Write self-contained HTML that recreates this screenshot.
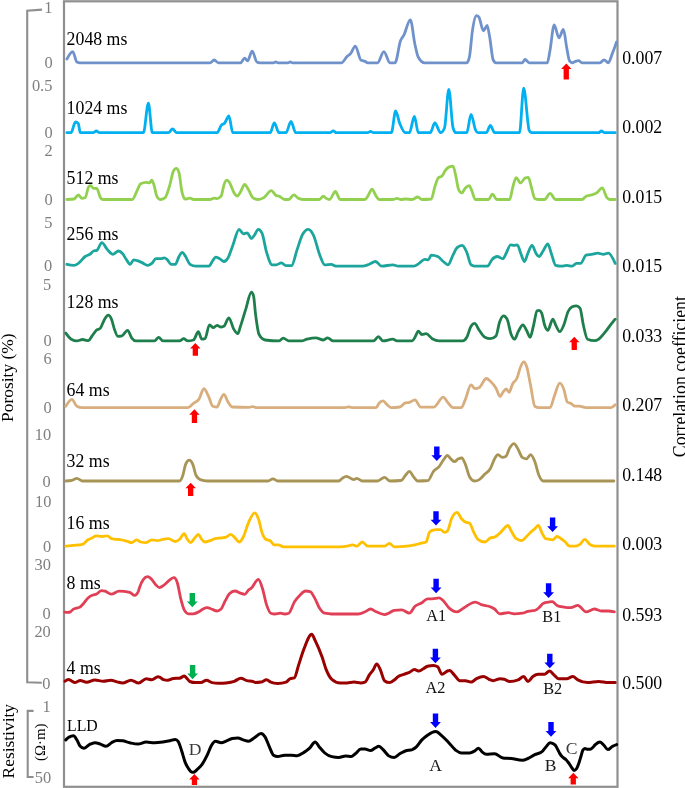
<!DOCTYPE html>
<html><head><meta charset="utf-8"><style>
html,body{margin:0;padding:0;background:#fff;}
svg{display:block;will-change:transform;}
text{font-family:"Liberation Serif",serif;}
.ax{font-size:16.4px;fill:#7f7f7f;}
.lb{font-size:17.8px;fill:#000;}
.sm{font-size:15.6px;fill:#000;}
.lt{font-size:16.3px;fill:#111;}
.lt2{font-size:17.6px;fill:#1a1a1a;}
.lt3{font-size:17.6px;fill:#3a3a3a;}
</style></head><body>
<svg width="685" height="788" viewBox="0 0 685 788">
<rect x="64" y="1.3" width="553.5" height="785.5" fill="none" stroke="#8f8f8f" stroke-width="2.2"/>
<path d="M42,9.6 L27.2,10.8 L27.2,682.2 L41.8,682.8" fill="none" stroke="#8f8f8f" stroke-width="2.1"/>
<path d="M33.6,710.9 L27.7,710.9 L27.7,777 L33.6,777" fill="none" stroke="#8f8f8f" stroke-width="2.1"/>
<text x="52.5" y="13.4" text-anchor="end" class="ax">1</text>
<text x="52.6" y="68.0" text-anchor="end" class="ax">0</text>
<text x="52.4" y="91.0" text-anchor="end" class="ax">0.5</text>
<text x="52.6" y="137.8" text-anchor="end" class="ax">0</text>
<text x="52.6" y="156.0" text-anchor="end" class="ax">2</text>
<text x="52.6" y="204.8" text-anchor="end" class="ax">0</text>
<text x="52.4" y="228.0" text-anchor="end" class="ax">5</text>
<text x="52.2" y="271.0" text-anchor="end" class="ax">0</text>
<text x="51.2" y="290.0" text-anchor="end" class="ax">5</text>
<text x="51.6" y="346.0" text-anchor="end" class="ax">0</text>
<text x="51.6" y="363.6" text-anchor="end" class="ax">6</text>
<text x="51.6" y="413.0" text-anchor="end" class="ax">0</text>
<text x="51.2" y="440.0" text-anchor="end" class="ax">10</text>
<text x="50.8" y="486.6" text-anchor="end" class="ax">0</text>
<text x="51.4" y="506.8" text-anchor="end" class="ax">10</text>
<text x="51.2" y="551.7" text-anchor="end" class="ax">0</text>
<text x="51.0" y="570.0" text-anchor="end" class="ax">30</text>
<text x="50.8" y="619.3" text-anchor="end" class="ax">0</text>
<text x="50.8" y="636.7" text-anchor="end" class="ax">20</text>
<text x="50.4" y="688.6" text-anchor="end" class="ax">0</text>
<text x="50.8" y="711.8" text-anchor="end" class="ax">1</text>
<text x="51.2" y="782.8" text-anchor="end" class="ax">50</text>
<text x="622.2" y="63.5" class="lb">0.007</text>
<text x="622.2" y="133.1" class="lb">0.002</text>
<text x="622.2" y="202.8" class="lb">0.015</text>
<text x="622.2" y="272.4" class="lb">0.015</text>
<text x="622.2" y="341.6" class="lb">0.033</text>
<text x="622.2" y="411.3" class="lb">0.207</text>
<text x="622.2" y="480.5" class="lb">0.148</text>
<text x="622.2" y="550.3" class="lb">0.003</text>
<text x="622.2" y="620.6" class="lb">0.593</text>
<text x="622.2" y="689.2" class="lb">0.500</text>
<text x="66.6" y="44.7" class="lb">2048 ms</text>
<text x="66.6" y="114.4" class="lb">1024 ms</text>
<text x="66.6" y="184.2" class="lb">512 ms</text>
<text x="66.6" y="239.6" class="lb">256 ms</text>
<text x="66.6" y="308.3" class="lb">128 ms</text>
<text x="66.6" y="396.0" class="lb">64 ms</text>
<text x="66.6" y="467.1" class="lb">32 ms</text>
<text x="66.6" y="529.3" class="lb">16 ms</text>
<text x="66.6" y="588.8" class="lb">8 ms</text>
<text x="66.6" y="674.1" class="lb">4 ms</text>
<text x="67.0" y="731.4" class="lb" style="font-size:15.8px">LLD</text>
<text transform="translate(13.4,421.9) rotate(-90)" class="lb" style="font-size:17.4px">Porosity (%)</text>
<text transform="translate(685.7,457.2) rotate(-90)" class="lb">Correlation coefficient</text>
<text transform="translate(14.3,778.4) rotate(-90)" class="lb" style="font-size:17.4px">Resistivity</text>
<text transform="translate(45.2,761.0) rotate(-90)" class="sm" style="font-size:14.9px">(Ω·m)</text>
<path d="M66.9,59.1 C68.8,55.4 70.8,51.6 72.7,51.6 C74.1,51.6 75.5,61.2 76.9,62.0 C77.9,62.5 79.0,62.8 80.0,62.8 C123.3,62.8 166.7,62.8 210.0,62.8 C211.4,62.8 212.8,60.0 214.2,60.0 C215.6,60.0 216.9,62.8 218.3,62.8 C225.7,62.8 233.1,62.8 240.5,62.8 C241.9,62.8 243.3,58.1 244.7,58.1 C245.6,58.1 246.6,60.9 247.5,60.9 C249.1,60.9 250.6,51.1 252.2,51.1 C253.8,51.1 255.3,61.1 256.9,62.0 C257.9,62.5 259.0,62.8 260.0,62.8 C264.5,62.8 269.0,62.8 273.5,62.8 C274.2,62.8 275.0,61.9 275.7,61.9 C276.5,61.9 277.2,62.8 278.0,62.8 C281.3,62.8 284.7,62.8 288.0,62.8 C288.7,62.8 289.5,61.9 290.2,61.9 C291.0,61.9 291.7,62.8 292.5,62.8 C308.8,62.8 325.2,62.8 341.5,62.8 C343.3,62.8 345.2,58.4 347.0,56.6 C348.2,55.5 349.4,55.0 350.6,53.6 C352.2,51.8 353.7,46.1 355.3,46.1 C357.2,46.1 359.0,58.7 360.9,60.0 C362.3,60.9 363.6,60.8 365.0,61.4 C365.9,61.8 366.9,62.8 367.8,62.8 C371.0,62.8 374.3,62.8 377.5,62.8 C379.6,62.8 381.8,51.6 383.9,51.6 C385.9,51.6 388.0,62.8 390.0,62.8 C391.7,62.8 393.3,62.8 395.0,62.8 C396.9,62.8 398.7,45.3 400.6,40.6 C401.7,37.8 402.8,37.2 403.9,35.1 C406.0,31.0 408.2,19.8 410.3,19.8 C411.9,19.8 413.4,37.8 415.0,44.8 C416.1,49.6 417.2,55.4 418.3,57.2 C420.4,60.9 422.6,62.8 424.7,62.8 C438.7,62.8 452.8,62.8 466.8,62.8 C467.7,62.8 468.7,60.5 469.6,55.9 C470.5,51.3 471.5,37.2 472.4,30.9 C473.8,21.5 475.1,15.7 476.5,15.7 C477.3,15.7 478.0,16.1 478.8,17.0 C480.4,18.7 481.9,30.9 483.5,30.9 C484.7,30.9 485.9,25.4 487.1,25.4 C487.9,25.4 488.8,32.0 489.6,36.5 C490.8,42.8 492.0,57.6 493.2,60.0 C494.1,61.8 495.1,62.8 496.0,62.8 C504.8,62.8 513.5,62.8 522.3,62.8 C523.2,62.8 524.2,59.5 525.1,59.5 C526.5,59.5 527.8,62.8 529.2,62.8 C535.2,62.8 541.3,62.8 547.3,62.8 C548.2,62.8 549.1,55.0 550.0,50.4 C551.4,43.1 552.8,24.8 554.2,24.8 C555.8,24.8 557.3,37.8 558.9,37.8 C560.4,37.8 561.9,29.5 563.4,29.5 C564.5,29.5 565.6,42.0 566.7,47.6 C567.6,52.3 568.6,59.5 569.5,60.9 C570.4,62.1 571.3,62.8 572.2,62.8 C573.3,62.8 574.4,61.7 575.5,61.4 C576.5,61.0 577.6,60.6 578.6,60.6 C579.7,60.6 580.9,62.8 582.0,62.8 C588.0,62.8 594.0,62.8 600.0,62.8 C601.4,62.8 602.7,59.8 604.1,59.8 C605.5,59.8 606.9,62.8 608.3,62.8 C609.7,62.8 611.1,56.6 612.5,53.1 C613.9,49.6 615.2,45.8 616.6,42.0" fill="none" stroke="#7092cb" stroke-width="2.80" stroke-linejoin="round" stroke-linecap="round"/>
<path d="M66.9,132.7 C68.3,132.7 69.6,132.7 71.0,132.7 C72.5,132.7 74.0,122.0 75.5,122.0 C76.4,122.0 77.4,122.5 78.3,123.4 C78.9,124.0 79.6,132.7 80.2,132.7 C84.5,132.7 88.7,132.7 93.0,132.7 C94.1,132.7 95.2,131.0 96.3,131.0 C97.4,131.0 98.4,132.7 99.5,132.7 C114.1,132.7 128.8,132.7 143.4,132.7 C145.1,132.7 146.7,103.2 148.4,103.2 C149.7,103.2 151.0,132.7 152.3,132.7 C157.7,132.7 163.0,132.7 168.4,132.7 C169.8,132.7 171.2,129.0 172.6,129.0 C174.0,129.0 175.3,132.7 176.7,132.7 C190.1,132.7 203.6,132.7 217.0,132.7 C218.6,132.7 220.1,126.3 221.7,124.8 C222.6,124.0 223.5,124.2 224.4,123.4 C225.9,122.0 227.4,116.0 228.9,116.0 C230.2,116.0 231.5,132.7 232.8,132.7 C245.3,132.7 257.7,132.7 270.2,132.7 C271.6,132.7 272.9,122.9 274.3,122.9 C275.9,122.9 277.4,132.7 279.0,132.7 C281.3,132.7 283.7,132.7 286.0,132.7 C287.7,132.7 289.3,121.5 291.0,121.5 C292.6,121.5 294.1,132.7 295.7,132.7 C307.1,132.7 318.6,132.7 330.0,132.7 C331.1,132.7 332.1,130.9 333.2,130.9 C334.3,130.9 335.4,132.7 336.5,132.7 C346.8,132.7 357.2,132.7 367.5,132.7 C368.5,132.7 369.6,131.5 370.6,131.5 C371.6,131.5 372.7,132.7 373.7,132.7 C379.6,132.7 385.5,132.7 391.4,132.7 C392.8,132.7 394.2,111.0 395.6,111.0 C397.0,111.0 398.3,120.1 399.7,123.4 C401.6,128.0 403.4,132.7 405.3,132.7 C406.7,132.7 408.0,132.7 409.4,132.7 C411.1,132.7 412.7,116.5 414.4,116.5 C415.7,116.5 417.0,132.7 418.3,132.7 C422.3,132.7 426.2,132.7 430.2,132.7 C431.8,132.7 433.3,122.9 434.9,122.9 C436.8,122.9 438.6,132.7 440.5,132.7 C441.8,132.7 443.2,131.1 444.5,128.0 C445.9,124.6 447.4,89.3 448.8,89.3 C450.2,89.3 451.6,122.3 453.0,127.6 C453.9,131.0 454.8,132.7 455.7,132.7 C459.4,132.7 463.1,132.7 466.8,132.7 C468.2,132.7 469.6,114.3 471.0,114.3 C472.6,114.3 474.1,127.6 475.7,130.4 C476.4,131.7 477.2,132.7 477.9,132.7 C480.7,132.7 483.5,132.7 486.3,132.7 C487.7,132.7 489.0,125.4 490.4,125.4 C491.8,125.4 493.2,132.7 494.6,132.7 C502.9,132.7 511.2,132.7 519.5,132.7 C520.9,132.7 522.3,88.2 523.7,88.2 C525.5,88.2 527.4,126.2 529.2,130.4 C529.9,131.9 530.5,132.7 531.2,132.7 C553.7,132.7 576.1,132.7 598.6,132.7 C599.5,132.7 600.5,131.0 601.4,131.0 C602.4,131.0 603.5,132.7 604.5,132.7 C608.1,132.7 611.6,132.7 615.2,132.7" fill="none" stroke="#00b0f0" stroke-width="2.80" stroke-linejoin="round" stroke-linecap="round"/>
<path d="M66.9,199.5 C69.3,199.4 71.7,199.3 74.1,199.0 C75.5,198.8 76.9,194.8 78.3,194.8 C79.5,194.8 80.7,198.4 81.9,198.4 C83.0,198.4 84.1,198.1 85.2,197.6 C86.4,197.0 87.6,187.6 88.8,186.5 C89.4,185.9 90.1,185.6 90.7,185.6 C91.6,185.6 92.6,188.4 93.5,188.4 C94.6,188.4 95.7,188.4 96.8,188.4 C98.0,188.4 99.2,196.0 100.4,197.6 C101.3,198.9 102.3,199.5 103.2,199.5 C112.9,199.5 122.6,199.5 132.3,199.5 C133.7,199.5 135.1,194.6 136.5,192.0 C137.9,189.4 139.3,184.4 140.7,183.7 C142.5,182.8 144.4,182.3 146.2,182.3 C147.3,182.3 148.4,182.9 149.5,182.9 C150.3,182.9 151.0,180.1 151.8,180.1 C152.5,180.1 153.3,182.9 154.0,185.1 C154.9,187.9 155.9,194.3 156.8,196.2 C157.9,198.4 159.0,199.5 160.1,199.5 C161.8,199.5 163.4,198.9 165.1,197.6 C166.7,196.4 168.2,190.3 169.8,185.1 C171.0,181.1 172.2,173.6 173.4,171.2 C174.3,169.3 175.3,168.4 176.2,168.4 C177.1,168.4 178.1,169.8 179.0,172.6 C179.9,175.3 180.8,186.3 181.7,190.6 C182.8,196.1 184.0,199.0 185.1,199.0 C186.7,199.0 188.4,198.1 190.0,198.1 C191.1,198.1 192.3,199.5 193.4,199.5 C198.9,199.5 204.5,199.5 210.0,199.5 C211.4,199.5 212.8,198.1 214.2,198.1 C215.1,198.1 216.1,198.7 217.0,198.7 C218.4,198.7 219.7,197.9 221.1,196.2 C222.0,195.1 223.0,187.8 223.9,185.1 C224.8,182.4 225.8,180.1 226.7,180.1 C227.6,180.1 228.5,181.0 229.4,182.3 C230.8,184.3 232.2,189.6 233.6,192.0 C234.8,194.0 236.0,196.2 237.2,196.2 C238.3,196.2 239.4,193.6 240.5,192.0 C241.9,189.9 243.3,184.5 244.7,184.5 C246.1,184.5 247.5,188.3 248.9,190.6 C250.2,192.7 251.4,196.7 252.7,197.6 C254.6,198.9 256.4,199.5 258.3,199.5 C260.1,199.5 262.0,198.7 263.8,197.6 C266.3,196.1 268.8,190.6 271.3,190.6 C273.0,190.6 274.6,194.9 276.3,195.6 C277.2,196.0 278.2,195.9 279.1,196.2 C280.9,196.8 282.8,199.5 284.6,199.5 C286.0,199.5 287.4,199.5 288.8,199.5 C290.5,199.5 292.1,194.8 293.8,194.8 C295.4,194.8 296.9,197.8 298.5,198.4 C300.3,199.1 302.2,199.5 304.0,199.5 C309.1,199.5 314.2,199.5 319.3,199.5 C320.7,199.5 322.0,196.2 323.4,196.2 C324.3,196.2 325.3,197.9 326.2,198.4 C327.3,199.0 328.4,199.5 329.5,199.5 C331.5,199.5 333.4,191.5 335.4,191.5 C337.0,191.5 338.5,199.5 340.1,199.5 C348.4,199.5 356.7,199.5 365.0,199.5 C365.9,199.5 366.9,197.5 367.8,196.2 C369.2,194.3 370.6,189.2 372.0,189.2 C373.4,189.2 374.8,194.2 376.2,196.2 C377.1,197.5 378.0,199.5 378.9,199.5 C383.5,199.5 388.2,199.5 392.8,199.5 C394.2,199.5 395.6,198.4 397.0,198.4 C398.4,198.4 399.7,199.5 401.1,199.5 C402.5,199.5 403.9,199.0 405.3,199.0 C407.6,199.0 409.9,199.5 412.2,199.5 C414.1,199.5 415.9,197.0 417.8,197.0 C419.2,197.0 420.5,199.5 421.9,199.5 C425.0,199.5 428.2,199.3 431.3,199.0 C432.5,198.9 433.7,190.1 434.9,186.5 C436.1,182.9 437.3,178.6 438.5,177.6 C439.6,176.7 440.8,177.1 441.9,176.2 C443.0,175.3 444.1,172.2 445.2,170.7 C446.4,169.1 447.6,167.6 448.8,167.1 C450.2,166.5 451.6,166.2 453.0,166.2 C453.9,166.2 454.8,171.7 455.7,175.4 C456.6,179.3 457.6,187.1 458.5,189.2 C459.6,191.7 460.7,192.9 461.8,192.9 C463.0,192.9 464.2,189.1 465.4,187.9 C466.6,186.7 467.9,185.6 469.1,185.6 C470.0,185.6 470.9,188.6 471.8,190.6 C472.9,193.1 474.1,199.5 475.2,199.5 C479.6,199.5 484.1,199.5 488.5,199.5 C489.8,199.5 491.1,194.2 492.4,194.2 C493.9,194.2 495.3,199.5 496.8,199.5 C501.1,199.5 505.5,199.5 509.8,199.5 C510.7,199.5 511.7,191.2 512.6,187.9 C513.8,183.6 515.0,177.6 516.2,177.6 C517.6,177.6 519.0,182.9 520.4,182.9 C522.0,182.9 523.5,178.9 525.1,178.1 C526.2,177.6 527.3,177.3 528.4,177.3 C529.3,177.3 530.3,183.4 531.2,186.5 C532.4,190.5 533.6,197.8 534.8,198.4 C536.2,199.1 537.6,199.5 539.0,199.5 C540.8,199.5 542.7,199.5 544.5,199.5 C546.4,199.5 548.2,193.4 550.1,193.4 C551.9,193.4 553.8,199.5 555.6,199.5 C564.4,199.5 573.2,199.5 582.0,199.5 C583.4,199.5 584.7,196.9 586.1,196.2 C588.0,195.3 589.8,195.4 591.7,194.8 C593.4,194.3 595.0,194.0 596.7,192.9 C598.5,191.7 600.4,187.9 602.2,187.9 C603.8,187.9 605.3,195.7 606.9,197.6 C607.8,198.7 608.8,199.5 609.7,199.5 C611.5,199.5 613.4,199.5 615.2,199.5" fill="none" stroke="#92d050" stroke-width="2.80" stroke-linejoin="round" stroke-linecap="round"/>
<path d="M66.9,264.3 C69.3,264.9 71.7,265.4 74.1,265.4 C75.5,265.4 76.9,264.3 78.3,263.4 C80.6,261.8 82.9,258.2 85.2,256.5 C87.0,255.2 88.9,255.2 90.7,253.7 C91.6,252.9 92.6,251.3 93.5,251.0 C94.6,250.6 95.7,250.8 96.8,250.4 C98.5,249.8 100.1,242.6 101.8,242.6 C103.7,242.6 105.5,247.6 107.4,249.6 C109.2,251.5 111.1,254.3 112.9,254.3 C114.8,254.3 116.6,251.0 118.5,251.0 C119.9,251.0 121.2,252.1 122.6,253.7 C123.8,255.1 125.0,257.6 126.2,259.3 C127.5,261.2 128.8,264.3 130.1,264.3 C131.3,264.3 132.5,259.8 133.7,259.8 C134.9,259.8 136.1,260.3 137.3,260.7 C138.9,261.2 140.5,261.9 142.1,262.6 C143.9,263.4 145.8,265.4 147.6,265.4 C149.0,265.4 150.4,264.5 151.8,263.4 C153.2,262.3 154.5,258.7 155.9,258.7 C157.5,258.7 159.0,258.7 160.6,258.7 C161.8,258.7 163.0,257.9 164.2,257.9 C165.1,257.9 166.1,258.6 167.0,259.3 C168.4,260.4 169.8,264.3 171.2,264.3 C172.6,264.3 173.9,264.3 175.3,264.3 C176.5,264.3 177.8,258.6 179.0,256.5 C180.1,254.7 181.2,252.3 182.3,252.3 C183.4,252.3 184.5,254.9 185.6,256.5 C187.1,258.7 188.5,263.4 190.0,264.3 C192.0,265.6 194.1,266.2 196.1,266.2 C200.3,266.2 204.4,266.2 208.6,266.2 C210.0,266.2 211.4,262.5 212.8,260.7 C213.7,259.5 214.7,257.1 215.6,257.1 C217.0,257.1 218.3,258.0 219.7,258.7 C221.1,259.4 222.5,261.5 223.9,261.5 C225.3,261.5 226.6,260.2 228.0,257.9 C229.6,255.2 231.2,249.5 232.8,245.4 C234.9,240.0 237.0,229.3 239.1,229.3 C240.5,229.3 241.9,233.8 243.3,233.8 C244.6,233.8 245.9,232.9 247.2,232.9 C248.6,232.9 249.9,238.5 251.3,238.5 C252.2,238.5 253.2,236.8 254.1,235.7 C255.5,234.0 256.9,229.3 258.3,229.3 C259.5,229.3 260.7,230.5 261.9,232.9 C263.5,236.0 265.0,247.2 266.6,252.3 C268.4,258.3 270.3,264.8 272.1,264.8 C273.5,264.8 274.9,264.8 276.3,264.8 C278.0,264.8 279.6,262.9 281.3,262.9 C282.9,262.9 284.4,265.7 286.0,265.7 C287.8,265.7 289.7,265.7 291.5,265.7 C293.4,265.7 295.2,254.9 297.1,249.6 C298.9,244.4 300.8,237.6 302.6,234.3 C304.5,231.0 306.3,229.3 308.2,229.3 C310.0,229.3 311.9,231.7 313.7,235.7 C315.6,239.8 317.4,248.8 319.3,253.7 C321.1,258.5 323.0,264.8 324.8,264.8 C326.9,264.8 329.1,264.3 331.2,264.3 C332.8,264.3 334.3,266.2 335.9,266.2 C344.7,266.2 353.5,266.2 362.3,266.2 C364.6,266.2 366.9,265.1 369.2,264.3 C371.3,263.5 373.5,261.5 375.6,261.5 C377.6,261.5 379.7,266.2 381.7,266.2 C385.4,266.2 389.1,264.8 392.8,264.8 C394.6,264.8 396.5,266.2 398.3,266.2 C403.4,266.2 408.5,266.2 413.6,266.2 C415.4,266.2 417.3,264.5 419.1,263.4 C421.0,262.2 422.8,259.3 424.7,259.3 C425.9,259.3 427.1,259.8 428.3,259.8 C429.3,259.8 430.3,255.1 431.3,255.1 C433.4,255.1 435.6,255.6 437.7,256.5 C439.6,257.3 441.4,260.0 443.3,261.5 C444.9,262.7 446.4,264.8 448.0,264.8 C449.7,264.8 451.3,258.2 453.0,255.1 C454.4,252.5 455.7,248.8 457.1,247.6 C458.8,246.1 460.4,245.4 462.1,245.4 C463.7,245.4 465.2,248.8 466.8,252.3 C468.2,255.5 469.6,263.9 471.0,264.8 C472.4,265.7 473.8,266.2 475.2,266.2 C479.3,266.2 483.5,266.2 487.6,266.2 C489.0,266.2 490.4,261.4 491.8,259.8 C493.6,257.7 495.5,256.5 497.3,256.5 C499.2,256.5 501.0,258.7 502.9,258.7 C503.8,258.7 504.8,255.9 505.7,254.3 C507.4,251.5 509.0,244.9 510.7,244.9 C511.8,244.9 512.9,245.4 514.0,245.4 C515.1,245.4 516.2,244.9 517.3,244.9 C518.5,244.9 519.7,250.9 520.9,253.7 C522.1,256.5 523.3,261.5 524.5,261.5 C525.6,261.5 526.8,255.7 527.9,253.2 C529.3,250.2 530.6,245.4 532.0,245.4 C533.4,245.4 534.8,251.8 536.2,253.7 C537.1,255.0 538.1,256.5 539.0,256.5 C540.4,256.5 541.7,252.9 543.1,251.0 C544.7,248.8 546.2,244.0 547.8,244.0 C549.0,244.0 550.2,250.4 551.4,253.7 C552.8,257.5 554.2,265.0 555.6,265.4 C557.4,265.9 559.3,266.2 561.1,266.2 C563.0,266.2 564.8,265.4 566.7,265.4 C568.5,265.4 570.4,266.2 572.2,266.2 C573.6,266.2 575.0,263.4 576.4,263.4 C577.8,263.4 579.2,263.4 580.6,263.4 C582.4,263.4 584.3,255.6 586.1,255.1 C588.0,254.6 589.8,254.6 591.7,254.3 C593.7,254.0 595.8,253.2 597.8,253.2 C599.6,253.2 601.5,254.3 603.3,254.3 C605.0,254.3 606.6,253.2 608.3,253.2 C610.6,253.2 612.9,258.3 615.2,263.4" fill="none" stroke="#1ba59d" stroke-width="2.80" stroke-linejoin="round" stroke-linecap="round"/>
<path d="M65.8,333.1 C67.6,335.6 69.5,338.1 71.3,339.2 C73.2,340.3 75.0,340.9 76.9,340.9 C78.7,340.9 80.6,339.5 82.4,339.5 C84.4,339.5 86.5,340.6 88.5,340.6 C89.7,340.6 90.9,337.5 92.1,335.9 C93.5,334.1 94.9,331.6 96.3,330.3 C97.7,329.0 99.0,329.6 100.4,328.1 C101.8,326.6 103.2,321.4 104.6,319.2 C105.8,317.3 107.0,315.1 108.2,315.1 C109.3,315.1 110.4,316.5 111.5,319.2 C112.4,321.5 113.4,326.2 114.3,328.9 C115.5,332.3 116.7,336.4 117.9,336.4 C119.2,336.4 120.5,336.2 121.8,335.9 C123.7,335.4 125.7,330.3 127.6,330.3 C129.0,330.3 130.4,336.3 131.8,338.1 C133.1,339.7 134.4,340.9 135.7,340.9 C142.0,340.9 148.2,340.9 154.5,340.9 C155.9,340.9 157.3,337.3 158.7,337.3 C160.1,337.3 161.5,340.9 162.9,340.9 C168.4,340.9 174.0,340.9 179.5,340.9 C180.9,340.9 182.3,338.7 183.7,338.7 C185.1,338.7 186.4,340.9 187.8,340.9 C189.7,340.9 191.5,340.6 193.4,340.0 C195.1,339.5 196.7,331.7 198.4,331.7 C199.5,331.7 200.6,339.2 201.7,339.2 C202.8,339.2 203.9,339.0 205.0,338.7 C206.5,338.2 208.0,324.8 209.5,324.8 C210.8,324.8 212.0,327.6 213.3,327.6 C214.5,327.6 215.8,325.3 217.0,325.3 C218.2,325.3 219.4,327.0 220.6,327.0 C221.7,327.0 222.8,326.7 223.9,326.2 C225.6,325.4 227.2,317.8 228.9,317.8 C230.5,317.8 232.0,326.2 233.6,328.9 C235.0,331.3 236.4,333.7 237.8,333.7 C238.7,333.7 239.6,328.8 240.5,326.2 C242.4,320.7 244.2,314.0 246.1,308.1 C247.8,302.6 249.6,292.1 251.3,292.1 C252.0,292.1 252.8,293.3 253.5,295.7 C254.2,297.9 254.8,308.5 255.5,313.7 C256.7,323.1 257.9,332.3 259.1,334.5 C261.1,338.2 263.2,339.7 265.2,340.0 C269.8,340.6 274.5,340.9 279.1,340.9 C280.5,340.9 281.8,338.1 283.2,338.1 C285.1,338.1 286.9,340.9 288.8,340.9 C293.0,340.9 297.1,340.9 301.3,340.9 C303.1,340.9 305.0,339.7 306.8,339.2 C309.8,338.5 312.7,337.8 315.7,337.8 C318.3,337.8 320.8,340.0 323.4,340.0 C324.8,340.0 326.2,337.8 327.6,337.8 C329.5,337.8 331.3,340.9 333.2,340.9 C346.6,340.9 360.0,340.9 373.4,340.9 C375.1,340.9 376.7,336.7 378.4,336.7 C380.0,336.7 381.5,340.9 383.1,340.9 C386.3,340.9 389.6,339.2 392.8,339.2 C394.2,339.2 395.6,340.9 397.0,340.9 C402.1,340.9 407.1,340.9 412.2,340.9 C413.1,340.9 414.1,338.7 415.0,337.3 C416.1,335.6 417.2,331.2 418.3,331.2 C419.5,331.2 420.7,334.5 421.9,334.5 C423.3,334.5 424.7,333.7 426.1,333.7 C428.1,333.7 430.2,337.5 432.2,338.7 C434.5,340.0 436.8,340.9 439.1,340.9 C447.0,340.9 454.8,340.9 462.7,340.9 C464.1,340.9 465.4,339.7 466.8,337.3 C468.2,334.9 469.6,328.4 471.0,326.2 C472.2,324.3 473.4,323.4 474.6,323.4 C476.2,323.4 477.7,328.2 479.3,330.3 C481.2,332.9 483.0,336.3 484.9,337.3 C486.7,338.2 488.6,338.7 490.4,338.7 C492.3,338.7 494.1,337.8 496.0,335.9 C497.2,334.7 498.4,325.3 499.6,322.0 C500.9,318.4 502.2,315.9 503.5,315.9 C504.7,315.9 505.9,317.0 507.1,319.2 C508.5,321.7 509.8,331.1 511.2,334.5 C512.3,337.2 513.4,339.2 514.5,339.2 C515.7,339.2 517.0,333.9 518.2,331.7 C519.8,328.9 521.3,324.8 522.9,324.8 C524.1,324.8 525.3,328.2 526.5,330.3 C527.7,332.4 528.9,337.3 530.1,337.3 C531.2,337.3 532.3,330.4 533.4,326.2 C534.6,321.7 535.8,311.5 537.0,310.9 C537.7,310.6 538.3,310.4 539.0,310.4 C539.9,310.4 540.8,311.3 541.7,313.1 C542.6,315.0 543.6,322.0 544.5,324.8 C545.6,328.1 546.7,330.3 547.8,330.3 C549.5,330.3 551.1,319.2 552.8,319.2 C553.9,319.2 555.1,324.2 556.2,326.2 C557.4,328.4 558.6,331.7 559.8,331.7 C561.2,331.7 562.5,328.1 563.9,324.8 C565.3,321.4 566.7,314.5 568.1,311.5 C569.5,308.6 570.8,307.4 572.2,306.8 C573.6,306.2 575.0,305.9 576.4,305.9 C577.6,305.9 578.8,306.6 580.0,308.1 C581.1,309.4 582.2,320.0 583.3,324.8 C584.7,330.9 586.1,338.6 587.5,339.2 C589.8,340.1 592.1,340.6 594.4,340.6 C595.8,340.6 597.2,340.1 598.6,339.2 C600.9,337.8 603.2,334.5 605.5,331.7 C607.4,329.4 609.2,326.6 611.1,324.2 C612.5,322.5 613.8,320.8 615.2,319.2" fill="none" stroke="#1f7f4c" stroke-width="2.80" stroke-linejoin="round" stroke-linecap="round"/>
<path d="M65.8,406.2 C67.8,402.8 69.9,399.3 71.9,399.3 C73.6,399.3 75.2,405.4 76.9,406.2 C78.7,407.1 80.6,407.6 82.4,407.6 C117.5,407.6 152.7,407.6 187.8,407.6 C189.7,407.6 191.5,404.8 193.4,403.4 C195.2,402.0 197.1,402.0 198.9,399.3 C200.6,396.9 202.2,388.7 203.9,388.7 C205.5,388.7 207.0,393.4 208.6,396.5 C210.0,399.3 211.4,405.7 212.8,406.2 C214.2,406.7 215.6,407.0 217.0,407.0 C218.2,407.0 219.4,401.5 220.6,399.3 C221.7,397.3 222.8,394.3 223.9,394.3 C225.3,394.3 226.6,399.9 228.0,402.0 C229.4,404.2 230.8,406.9 232.2,407.0 C237.8,407.3 243.4,407.4 249.0,407.4 C250.2,407.4 251.5,406.6 252.7,406.6 C253.8,406.6 254.9,407.6 256.0,407.6 C285.7,407.6 315.3,407.6 345.0,407.6 C346.1,407.6 347.3,406.8 348.4,406.8 C349.6,406.8 350.8,407.6 352.0,407.6 C360.1,407.6 368.1,407.6 376.2,407.6 C377.1,407.6 378.0,404.5 378.9,403.4 C380.3,401.7 381.7,400.9 383.1,400.9 C384.5,400.9 385.8,403.7 387.2,404.8 C388.6,405.9 390.0,407.6 391.4,407.6 C394.2,407.6 396.9,407.4 399.7,407.0 C401.6,406.7 403.4,403.4 405.3,402.9 C406.7,402.5 408.0,402.7 409.4,402.3 C411.3,401.8 413.1,399.8 415.0,399.8 C416.8,399.8 418.7,406.9 420.5,407.0 C424.8,407.1 429.2,407.2 433.5,407.2 C436.8,407.2 440.0,397.1 443.3,397.1 C444.7,397.1 446.0,400.5 447.4,402.0 C449.3,404.1 451.1,407.6 453.0,407.6 C455.8,407.6 458.5,407.6 461.3,407.6 C462.7,407.6 464.0,402.4 465.4,399.3 C467.3,395.1 469.1,384.9 471.0,384.9 C472.4,384.9 473.8,388.7 475.2,388.7 C476.6,388.7 477.9,388.3 479.3,387.6 C481.6,386.3 484.0,378.5 486.3,378.5 C487.7,378.5 489.0,380.0 490.4,381.2 C492.3,382.9 494.1,385.0 496.0,388.2 C497.4,390.5 498.7,396.5 500.1,396.5 C501.0,396.5 502.0,393.5 502.9,392.3 C504.0,390.9 505.1,389.0 506.2,389.0 C507.1,389.0 508.1,392.3 509.0,392.3 C510.2,392.3 511.4,386.2 512.6,384.0 C514.0,381.4 515.4,381.6 516.8,378.5 C518.2,375.5 519.5,368.9 520.9,366.0 C521.8,364.0 522.8,361.8 523.7,361.8 C524.6,361.8 525.6,363.4 526.5,366.0 C527.9,369.8 529.2,378.8 530.6,385.4 C532.0,392.2 533.4,405.3 534.8,406.2 C536.2,407.1 537.6,407.6 539.0,407.6 C542.7,407.6 546.4,407.6 550.1,407.6 C551.5,407.6 552.8,400.0 554.2,396.5 C556.1,391.7 557.9,383.2 559.8,383.2 C561.2,383.2 562.5,385.9 563.9,389.6 C565.0,392.7 566.2,401.1 567.3,402.0 C568.5,402.9 569.7,402.8 570.9,403.4 C572.3,404.1 573.6,406.2 575.0,406.2 C576.4,406.2 577.8,406.2 579.2,406.2 C581.5,406.2 583.8,407.6 586.1,407.6 C594.4,407.6 602.8,407.6 611.1,407.6 C612.5,407.6 613.8,406.2 615.2,404.8" fill="none" stroke="#d9ae7e" stroke-width="2.80" stroke-linejoin="round" stroke-linecap="round"/>
<path d="M65.8,481.0 C67.6,480.9 69.5,480.8 71.3,480.5 C73.2,480.2 75.0,478.3 76.9,478.3 C78.7,478.3 80.6,481.0 82.4,481.0 C114.8,481.0 147.1,481.0 179.5,481.0 C180.6,481.0 181.7,478.7 182.8,475.5 C183.7,472.8 184.7,466.6 185.6,464.4 C186.8,461.6 188.0,460.2 189.2,460.2 C190.4,460.2 191.6,461.6 192.8,464.4 C193.9,466.9 195.0,473.4 196.1,475.5 C197.5,478.2 198.9,479.0 200.3,479.6 C202.6,480.5 204.9,481.0 207.2,481.0 C227.5,481.0 247.7,481.0 268.0,481.0 C269.7,481.0 271.3,478.8 273.0,478.8 C274.6,478.8 276.1,481.0 277.7,481.0 C298.0,481.0 318.4,481.0 338.7,481.0 C339.9,481.0 341.1,479.1 342.3,478.3 C343.6,477.5 344.9,476.3 346.2,476.3 C347.7,476.3 349.1,477.7 350.6,478.3 C351.7,478.8 352.9,479.6 354.0,479.6 C354.9,479.6 355.8,478.3 356.7,478.3 C358.6,478.3 360.4,481.0 362.3,481.0 C367.4,481.0 372.4,481.0 377.5,481.0 C379.8,481.0 382.2,477.4 384.5,477.4 C386.3,477.4 388.2,481.0 390.0,481.0 C393.7,481.0 397.4,480.8 401.1,480.5 C402.5,480.4 403.9,477.0 405.3,475.5 C406.7,474.0 408.0,471.3 409.4,471.3 C410.8,471.3 412.2,475.3 413.6,476.9 C415.0,478.5 416.4,481.0 417.8,481.0 C421.2,481.0 424.6,480.8 428.0,480.5 C429.8,480.3 431.7,473.6 433.5,471.3 C435.4,468.9 437.2,468.9 439.1,466.6 C440.5,464.9 441.9,462.1 443.3,460.2 C444.7,458.4 446.0,455.5 447.4,455.5 C448.8,455.5 450.2,458.6 451.6,459.7 C452.5,460.5 453.5,461.6 454.4,461.6 C455.8,461.6 457.1,459.4 458.5,458.8 C459.6,458.3 460.7,458.0 461.8,458.0 C463.0,458.0 464.2,461.6 465.4,464.4 C466.8,467.7 468.2,474.6 469.6,476.9 C471.3,479.6 472.9,481.0 474.6,481.0 C476.2,481.0 477.7,480.5 479.3,479.6 C481.2,478.5 483.0,476.0 484.9,474.1 C486.7,472.3 488.6,471.7 490.4,468.5 C491.8,466.0 493.2,461.2 494.6,458.8 C495.7,456.9 496.8,454.7 497.9,454.7 C499.4,454.7 500.8,457.4 502.3,457.4 C503.4,457.4 504.6,457.1 505.7,456.6 C507.1,456.0 508.4,449.9 509.8,447.7 C511.2,445.5 512.6,443.6 514.0,443.6 C515.1,443.6 516.2,446.0 517.3,447.7 C519.0,450.2 520.6,456.3 522.3,457.4 C523.7,458.3 525.1,458.8 526.5,458.8 C527.9,458.8 529.2,454.7 530.6,454.7 C532.0,454.7 533.4,458.1 534.8,461.6 C536.2,465.1 537.6,472.3 539.0,475.5 C540.4,478.7 541.7,481.0 543.1,481.0 C566.7,481.0 590.3,481.0 613.9,481.0" fill="none" stroke="#a89556" stroke-width="2.80" stroke-linejoin="round" stroke-linecap="round"/>
<path d="M65.8,546.2 C68.6,546.0 71.3,545.7 74.1,545.4 C76.9,545.1 79.6,545.0 82.4,544.3 C84.3,543.8 86.1,540.9 88.0,539.8 C89.4,539.0 90.7,538.5 92.1,537.9 C93.5,537.2 94.9,535.9 96.3,535.9 C98.1,535.9 100.0,536.5 101.8,536.5 C103.7,536.5 105.5,535.9 107.4,535.9 C108.8,535.9 110.1,538.3 111.5,538.7 C112.9,539.1 114.3,539.1 115.7,539.3 C117.6,539.5 119.4,539.5 121.3,539.8 C123.1,540.1 125.0,540.7 126.8,541.2 C128.5,541.6 130.1,542.6 131.8,542.6 C133.4,542.6 134.9,539.8 136.5,539.8 C137.9,539.8 139.3,541.7 140.7,542.0 C142.5,542.4 144.4,542.6 146.2,542.6 C148.1,542.6 149.9,539.8 151.8,539.8 C153.6,539.8 155.5,540.7 157.3,540.7 C159.2,540.7 161.0,539.6 162.9,539.3 C164.7,539.0 166.6,538.7 168.4,538.7 C170.7,538.7 173.0,541.5 175.3,541.5 C176.7,541.5 178.1,540.5 179.5,539.3 C181.1,538.0 182.6,533.7 184.2,533.7 C185.2,533.7 186.3,537.8 187.3,539.3 C188.4,540.9 189.5,542.6 190.6,542.6 C192.0,542.6 193.4,539.4 194.8,537.9 C196.0,536.6 197.2,534.3 198.4,534.3 C199.5,534.3 200.6,538.0 201.7,539.3 C202.8,540.6 203.9,542.0 205.0,542.0 C206.7,542.0 208.3,541.2 210.0,540.7 C211.7,540.2 213.3,539.1 215.0,538.7 C217.0,538.2 219.1,538.2 221.1,537.9 C222.8,537.7 224.4,537.6 226.1,537.1 C227.7,536.6 229.2,534.3 230.8,534.3 C232.2,534.3 233.6,536.6 235.0,537.9 C236.4,539.2 237.7,542.0 239.1,542.0 C240.5,542.0 241.9,539.7 243.3,537.0 C245.0,533.7 246.8,526.4 248.5,522.6 C250.6,518.0 252.6,512.9 254.7,512.9 C255.9,512.9 257.1,515.4 258.3,518.5 C259.7,522.0 261.0,530.2 262.4,533.7 C263.8,537.3 265.2,539.1 266.6,539.8 C267.8,540.4 269.0,540.1 270.2,540.7 C271.5,541.4 272.8,544.8 274.1,544.8 C275.6,544.8 277.0,544.8 278.5,544.8 C280.1,544.8 281.6,546.8 283.2,546.8 C302.2,546.8 321.1,546.8 340.1,546.8 C342.4,546.8 344.7,546.6 347.0,546.2 C348.9,545.9 350.7,544.8 352.6,544.8 C354.0,544.8 355.3,546.2 356.7,546.2 C358.6,546.2 360.4,542.0 362.3,542.0 C364.1,542.0 366.0,546.2 367.8,546.2 C373.4,546.2 378.9,546.2 384.5,546.2 C386.2,546.2 387.8,543.4 389.5,543.4 C391.1,543.4 392.6,546.8 394.2,546.8 C398.4,546.8 402.5,546.6 406.7,546.2 C408.5,546.0 410.4,545.7 412.2,545.4 C415.0,544.9 417.7,544.1 420.5,543.4 C422.4,542.9 424.2,542.9 426.1,542.0 C427.2,541.5 428.3,533.8 429.4,532.3 C430.3,531.0 431.3,530.8 432.2,530.4 C433.6,529.9 434.9,529.6 436.3,529.6 C437.7,529.6 439.1,529.6 440.5,529.6 C441.9,529.6 443.2,532.3 444.6,532.3 C445.5,532.3 446.5,531.9 447.4,531.0 C448.8,529.7 450.2,521.5 451.6,518.5 C453.4,514.5 455.3,512.4 457.1,512.4 C458.5,512.4 459.9,516.9 461.3,518.5 C462.7,520.1 464.0,521.4 465.4,522.1 C466.8,522.8 468.2,522.5 469.6,523.2 C471.0,523.9 472.4,529.6 473.8,532.3 C475.2,534.9 476.5,538.2 477.9,539.3 C480.2,541.1 482.6,542.0 484.9,542.0 C486.7,542.0 488.6,538.6 490.4,537.9 C491.8,537.4 493.2,537.6 494.6,537.1 C496.6,536.3 498.7,534.4 500.7,532.3 C501.9,531.1 503.1,529.4 504.3,528.2 C505.5,527.1 506.7,525.4 507.9,525.4 C509.0,525.4 510.1,529.2 511.2,531.0 C512.9,533.7 514.5,537.5 516.2,538.7 C518.1,540.0 519.9,540.7 521.8,540.7 C523.4,540.7 524.9,538.0 526.5,536.5 C527.9,535.2 529.2,533.6 530.6,532.3 C532.0,531.0 533.4,529.9 534.8,528.7 C536.0,527.6 537.2,525.4 538.4,525.4 C539.5,525.4 540.6,530.3 541.7,532.3 C543.1,534.9 544.5,538.3 545.9,538.7 C548.2,539.4 550.5,539.8 552.8,539.8 C554.2,539.8 555.6,536.5 557.0,536.5 C558.4,536.5 559.7,537.8 561.1,538.7 C562.5,539.6 563.9,540.8 565.3,542.0 C566.7,543.2 568.1,546.2 569.5,546.2 C571.3,546.2 573.2,546.2 575.0,546.2 C576.7,546.2 578.3,545.5 580.0,544.3 C581.6,543.2 583.1,539.3 584.7,539.3 C586.6,539.3 588.4,543.8 590.3,544.8 C592.1,545.7 594.0,546.2 595.8,546.2 C602.0,546.2 608.2,546.2 614.4,546.2" fill="none" stroke="#ffc000" stroke-width="2.80" stroke-linejoin="round" stroke-linecap="round"/>
<path d="M64.8,612.2 C65.9,612.3 66.9,612.4 68.0,612.4 C68.8,612.4 69.7,612.2 70.5,611.7 C71.5,611.2 72.5,609.7 73.5,609.1 C74.5,608.5 75.5,608.4 76.5,608.1 C77.5,607.8 78.6,607.8 79.6,607.3 C80.9,606.6 82.2,604.9 83.5,603.5 C84.8,602.0 86.2,599.8 87.5,598.5 C89.3,596.7 91.0,595.7 92.8,595.0 C94.0,594.5 95.1,594.6 96.3,594.1 C98.0,593.4 99.8,590.7 101.5,590.7 C102.7,590.7 103.8,590.9 105.0,591.2 C107.1,591.7 109.1,594.2 111.2,594.2 C113.8,594.2 116.4,591.2 119.0,591.2 C122.5,591.2 126.1,591.6 129.6,592.4 C131.3,592.8 133.1,595.4 134.8,595.4 C136.0,595.4 137.1,594.1 138.3,591.5 C138.6,590.8 139.0,589.2 139.3,588.2 C140.7,584.0 142.0,581.2 143.4,579.4 C144.8,577.5 146.2,576.6 147.6,576.6 C149.0,576.6 150.4,578.0 151.8,579.4 C153.2,580.8 154.5,583.5 155.9,584.9 C157.1,586.1 158.3,587.7 159.5,587.7 C161.1,587.7 162.6,586.0 164.2,584.9 C166.1,583.5 167.9,581.2 169.8,579.9 C171.2,578.9 172.6,577.7 174.0,577.7 C175.1,577.7 176.2,579.4 177.3,582.7 C178.5,586.3 179.7,594.7 180.9,599.3 C182.1,603.9 183.3,608.3 184.5,610.4 C185.8,612.7 187.1,613.8 188.4,613.8 C190.1,613.8 191.7,613.8 193.4,613.8 C195.2,613.8 197.1,612.8 198.9,611.8 C200.3,611.1 201.7,609.7 203.1,609.0 C204.5,608.3 205.8,607.7 207.2,607.7 C208.6,607.7 210.0,608.5 211.4,609.0 C213.3,609.6 215.1,611.0 217.0,611.0 C218.4,611.0 219.7,610.3 221.1,609.0 C222.5,607.6 223.9,603.3 225.3,600.7 C226.7,598.2 228.0,595.2 229.4,593.8 C231.3,591.9 233.1,591.0 235.0,591.0 C236.8,591.0 238.7,592.6 240.5,593.2 C241.9,593.7 243.3,594.3 244.7,594.3 C246.1,594.3 247.5,590.7 248.9,589.6 C249.7,589.0 250.5,588.8 251.3,588.2 C253.6,586.4 256.0,579.4 258.3,579.4 C259.7,579.4 261.0,584.0 262.4,588.2 C263.8,592.5 265.2,600.7 266.6,604.9 C268.0,609.0 269.3,612.7 270.7,613.2 C272.1,613.7 273.5,614.0 274.9,614.0 C276.7,614.0 278.6,613.2 280.4,613.2 C281.8,613.2 283.2,614.0 284.6,614.0 C286.0,614.0 287.4,613.7 288.8,613.2 C290.6,612.5 292.5,605.1 294.3,602.1 C296.2,599.1 298.0,597.1 299.9,595.2 C301.7,593.4 303.6,591.0 305.4,591.0 C307.0,591.0 308.5,591.2 310.1,591.6 C311.6,592.0 313.1,595.3 314.6,597.9 C316.2,600.6 317.7,605.2 319.3,607.7 C321.1,610.6 323.0,612.8 324.8,613.2 C327.1,613.7 329.5,614.0 331.8,614.0 C340.6,614.0 349.3,614.0 358.1,614.0 C360.4,614.0 362.7,612.8 365.0,611.8 C366.9,611.0 368.7,609.0 370.6,609.0 C372.5,609.0 374.3,611.0 376.2,611.8 C379.0,613.0 381.7,614.6 384.5,614.6 C385.9,614.6 387.2,613.8 388.6,613.2 C390.5,612.4 392.3,610.6 394.2,610.4 C396.7,610.1 399.2,609.9 401.7,609.9 C404.3,609.9 406.8,613.2 409.4,613.2 C411.3,613.2 413.1,608.0 415.0,606.3 C417.3,604.2 419.6,604.1 421.9,602.7 C423.8,601.5 425.6,598.8 427.5,598.8 C429.1,598.8 430.6,598.8 432.2,598.8 C434.5,598.8 436.8,597.9 439.1,597.9 C440.5,597.9 441.9,599.4 443.3,600.7 C445.1,602.4 447.0,605.9 448.8,607.7 C451.6,610.4 454.3,611.8 457.1,611.8 C459.4,611.8 461.8,609.0 464.1,607.7 C467.8,605.6 471.5,602.1 475.2,602.1 C477.5,602.1 479.8,604.2 482.1,604.9 C484.4,605.6 486.7,605.5 489.0,606.3 C490.9,607.0 492.7,607.6 494.6,609.0 C496.3,610.2 497.9,613.8 499.6,613.8 C502.5,613.8 505.5,612.7 508.4,612.7 C510.3,612.7 512.1,613.8 514.0,613.8 C516.8,613.8 519.5,613.6 522.3,613.2 C524.2,612.9 526.0,611.8 527.9,611.3 C530.2,610.7 532.5,611.0 534.8,610.4 C536.2,610.0 537.6,608.9 539.0,607.7 C540.4,606.6 541.7,604.2 543.1,603.5 C545.0,602.6 546.8,602.4 548.7,602.1 C549.9,601.9 551.1,601.6 552.3,601.6 C553.9,601.6 555.4,604.6 557.0,605.4 C559.3,606.5 561.6,606.7 563.9,607.1 C566.2,607.5 568.6,607.7 570.9,607.7 C573.2,607.7 575.5,605.4 577.8,605.4 C580.6,605.4 583.3,611.8 586.1,611.8 C588.9,611.8 591.6,609.0 594.4,609.0 C596.7,609.0 599.1,611.0 601.4,611.0 C603.7,611.0 606.0,611.0 608.3,611.0 C610.3,611.0 612.4,611.4 614.4,611.8" fill="none" stroke="#e13f55" stroke-width="2.80" stroke-linejoin="round" stroke-linecap="round"/>
<path d="M65.1,681.2 C66.2,680.3 67.4,679.4 68.5,679.4 C69.4,679.4 70.4,680.3 71.3,680.8 C72.5,681.4 73.6,682.6 74.8,682.6 C76.6,682.6 78.5,680.5 80.3,680.5 C82.4,680.5 84.5,682.3 86.6,682.3 C89.4,682.3 92.1,680.1 94.9,680.1 C97.7,680.1 100.4,681.2 103.2,681.2 C105.7,681.2 108.3,680.2 110.8,680.2 C112.9,680.2 115.0,681.4 117.1,681.9 C118.9,682.3 120.8,683.0 122.6,683.0 C125.4,683.0 128.2,680.2 131.0,680.2 C133.5,680.2 136.1,683.0 138.6,683.0 C141.1,683.0 143.7,678.7 146.2,678.7 C148.1,678.7 149.9,679.8 151.8,679.8 C153.9,679.8 155.9,676.8 158.0,676.8 C158.7,676.8 159.4,677.1 160.1,677.4 C161.2,677.9 162.4,679.2 163.5,679.6 C164.9,680.1 166.3,680.3 167.7,680.3 C169.6,680.3 171.4,678.7 173.3,678.5 C175.4,678.3 177.4,678.4 179.5,678.2 C181.1,678.0 182.8,676.0 184.4,676.0 C185.1,676.0 185.7,677.2 186.4,677.8 C187.6,678.9 188.7,681.0 189.9,681.5 C191.7,682.2 193.6,682.6 195.4,682.6 C197.3,682.6 199.1,682.5 201.0,682.4 C202.8,682.3 204.7,680.3 206.5,680.3 C208.4,680.3 210.2,682.2 212.1,682.6 C214.4,683.1 216.7,683.3 219.0,683.3 C221.3,683.3 223.7,683.2 226.0,682.9 C228.8,682.6 231.5,682.3 234.3,681.3 C236.5,680.5 238.7,678.2 240.9,678.2 C242.9,678.2 244.8,680.1 246.8,680.6 C248.9,681.2 250.9,680.9 253.0,681.5 C253.8,681.7 254.7,682.6 255.5,682.6 C257.3,682.6 259.2,682.4 261.0,682.1 C262.9,681.8 264.7,679.8 266.6,679.8 C268.0,679.8 269.3,681.6 270.7,682.1 C273.0,683.0 275.4,683.4 277.7,683.4 C280.5,683.4 283.2,683.0 286.0,682.1 C287.4,681.7 288.8,679.2 290.2,678.7 C291.6,678.2 292.9,678.4 294.3,677.9 C295.7,677.4 297.1,669.6 298.5,665.4 C300.3,659.9 302.2,653.5 304.0,648.8 C306.6,642.2 309.2,634.3 311.8,634.3 C312.9,634.3 314.0,638.2 315.1,640.4 C317.4,645.1 319.8,650.6 322.1,657.1 C323.5,660.9 324.8,666.2 326.2,669.6 C328.1,674.3 329.9,677.7 331.8,679.3 C334.6,681.7 337.3,682.9 340.1,682.9 C342.4,682.9 344.7,682.9 347.0,682.9 C349.3,682.9 351.7,682.1 354.0,682.1 C356.3,682.1 358.6,682.9 360.9,682.9 C362.3,682.9 363.6,682.6 365.0,682.1 C366.4,681.6 367.8,677.2 369.2,675.1 C370.6,673.0 372.0,671.7 373.4,669.6 C374.5,667.9 375.6,664.0 376.7,664.0 C377.9,664.0 379.1,667.1 380.3,669.6 C381.7,672.5 383.1,679.6 384.5,680.7 C386.2,682.0 387.8,682.6 389.5,682.6 C391.1,682.6 392.6,681.2 394.2,680.1 C395.6,679.1 396.9,677.4 398.3,676.5 C400.2,675.2 402.0,675.0 403.9,674.3 C405.7,673.6 407.6,673.1 409.4,672.3 C411.1,671.5 412.7,669.6 414.4,669.6 C416.0,669.6 417.5,671.0 419.1,671.0 C420.5,671.0 421.9,669.5 423.3,668.7 C424.7,667.9 426.1,666.6 427.5,666.2 C429.5,665.7 431.5,665.4 433.5,665.4 C434.9,665.4 436.3,665.9 437.7,666.8 C439.1,667.7 440.5,674.3 441.9,674.3 C443.7,674.3 445.6,671.7 447.4,671.0 C448.1,670.7 448.9,670.4 449.6,670.4 C451.2,670.4 452.8,673.5 454.4,675.1 C456.2,676.9 458.1,680.7 459.9,680.7 C461.7,680.7 463.6,680.7 465.4,680.7 C467.3,680.7 469.1,682.1 471.0,682.1 C472.8,682.1 474.7,679.6 476.5,678.7 C478.8,677.6 481.2,676.5 483.5,676.5 C485.3,676.5 487.2,678.5 489.0,679.3 C490.4,679.9 491.8,680.7 493.2,680.7 C495.5,680.7 497.8,678.7 500.1,678.7 C501.5,678.7 502.9,678.9 504.3,679.3 C506.1,679.8 508.0,681.5 509.8,681.5 C512.6,681.5 515.4,680.9 518.2,679.8 C520.0,679.1 521.9,676.5 523.7,676.5 C525.1,676.5 526.5,681.5 527.9,681.5 C529.6,681.5 531.2,677.7 532.9,676.5 C534.7,675.2 536.6,674.3 538.4,674.3 C540.4,674.3 542.5,674.3 544.5,674.3 C546.2,674.3 547.8,671.0 549.5,671.0 C551.1,671.0 552.6,673.7 554.2,675.1 C555.6,676.3 557.0,678.7 558.4,678.7 C561.2,678.7 563.9,678.7 566.7,678.7 C568.7,678.7 570.8,676.5 572.8,676.5 C574.5,676.5 576.1,678.9 577.8,679.8 C581.0,681.5 584.3,682.6 587.5,682.6 C591.2,682.6 594.9,681.5 598.6,681.5 C601.8,681.5 605.1,682.6 608.3,682.6 C610.6,682.6 612.9,682.6 615.2,682.6" fill="none" stroke="#990000" stroke-width="3.00" stroke-linejoin="round" stroke-linecap="round"/>
<path d="M65.8,739.9 C66.9,738.8 68.0,737.8 69.1,737.1 C70.6,736.2 72.0,735.8 73.5,735.8 C74.6,735.8 75.8,738.1 76.9,739.9 C78.0,741.6 79.1,745.1 80.2,746.3 C81.4,747.6 82.6,748.2 83.8,748.2 C85.7,748.2 87.5,745.5 89.4,744.6 C91.2,743.7 93.1,742.7 94.9,742.7 C96.7,742.7 98.6,743.5 100.4,744.1 C102.3,744.7 104.1,746.3 106.0,746.3 C107.8,746.3 109.7,743.7 111.5,742.7 C113.4,741.7 115.2,740.5 117.1,740.5 C118.9,740.5 120.8,740.6 122.6,740.8 C124.9,741.1 127.3,742.2 129.6,742.7 C132.4,743.3 135.1,744.1 137.9,744.1 C140.7,744.1 143.4,742.1 146.2,742.1 C149.0,742.1 151.7,742.7 154.5,742.7 C157.3,742.7 160.1,742.3 162.9,741.9 C165.2,741.6 167.5,741.3 169.8,740.8 C171.6,740.4 173.5,739.4 175.3,739.4 C176.2,739.4 177.2,740.0 178.1,741.3 C179.3,742.9 180.5,747.4 181.7,751.0 C182.8,754.4 184.0,759.2 185.1,762.1 C186.2,764.9 187.2,766.6 188.3,768.3 C189.1,769.5 189.8,770.6 190.6,771.3 C191.3,771.9 192.0,772.3 192.7,772.3 C193.4,772.3 194.2,772.0 194.9,771.6 C195.8,771.1 196.6,770.0 197.5,769.2 C198.9,767.9 200.3,766.8 201.7,764.9 C203.5,762.4 205.4,759.0 207.2,755.2 C208.6,752.3 210.0,747.8 211.4,745.5 C212.8,743.2 214.2,741.3 215.6,741.3 C217.4,741.3 219.3,742.7 221.1,742.7 C223.0,742.7 224.8,741.5 226.7,740.8 C228.5,740.1 230.4,738.8 232.2,738.5 C234.1,738.2 235.9,738.0 237.8,738.0 C239.6,738.0 241.5,739.3 243.3,739.9 C245.0,740.4 246.8,741.3 248.5,741.3 C250.4,741.3 252.2,739.2 254.1,738.0 C256.4,736.6 258.7,733.5 261.0,733.5 C262.4,733.5 263.8,734.9 265.2,737.1 C266.6,739.3 268.0,743.9 269.4,746.9 C270.8,749.9 272.1,754.3 273.5,755.2 C274.9,756.1 276.3,756.6 277.7,756.6 C280.0,756.6 282.3,755.2 284.6,755.2 C286.9,755.2 289.2,755.2 291.5,755.2 C293.4,755.2 295.2,755.7 297.1,755.7 C299.4,755.7 301.7,753.8 304.0,752.4 C305.9,751.2 307.7,750.0 309.6,748.2 C311.4,746.5 313.3,741.9 315.1,741.9 C316.5,741.9 317.9,745.3 319.3,746.9 C321.1,749.0 323.0,751.4 324.8,753.0 C327.1,755.0 329.5,756.1 331.8,756.6 C334.1,757.1 336.4,757.4 338.7,757.4 C341.0,757.4 343.3,756.0 345.6,756.0 C347.5,756.0 349.3,756.6 351.2,756.6 C352.6,756.6 353.9,754.8 355.3,753.8 C357.2,752.4 359.0,749.1 360.9,749.1 C362.3,749.1 363.6,749.1 365.0,749.1 C366.9,749.1 368.7,750.5 370.6,750.5 C372.0,750.5 373.4,748.9 374.8,748.2 C376.2,747.5 377.5,746.3 378.9,746.3 C380.3,746.3 381.7,748.3 383.1,749.6 C384.9,751.3 386.8,754.6 388.6,755.7 C390.5,756.8 392.3,757.4 394.2,757.4 C396.0,757.4 397.9,754.9 399.7,753.8 C401.6,752.7 403.4,751.7 405.3,751.0 C407.6,750.2 409.9,750.5 412.2,749.6 C413.6,749.0 415.0,748.2 416.4,746.9 C418.2,745.2 420.1,741.8 421.9,739.9 C423.8,737.9 425.6,736.5 427.5,735.2 C430.3,733.3 433.0,731.6 435.8,731.6 C437.8,731.6 439.9,734.1 441.9,735.8 C444.2,737.7 446.5,740.3 448.8,742.7 C451.1,745.1 453.4,748.4 455.7,750.2 C457.6,751.6 459.4,753.0 461.3,753.0 C464.1,753.0 466.8,753.0 469.6,753.0 C471.3,753.0 472.9,752.0 474.6,751.0 C475.9,750.2 477.2,748.2 478.5,748.2 C479.7,748.2 480.9,750.9 482.1,751.9 C483.5,753.0 484.9,754.3 486.3,754.3 C489.1,754.3 491.8,753.8 494.6,753.8 C497.4,753.8 500.1,757.7 502.9,758.0 C505.7,758.3 508.4,758.2 511.2,758.5 C514.9,758.9 518.6,760.2 522.3,760.2 C524.2,760.2 526.0,759.3 527.9,758.5 C530.2,757.5 532.5,755.7 534.8,754.6 C537.1,753.5 539.4,753.7 541.7,751.9 C543.1,750.8 544.5,748.4 545.9,746.9 C547.3,745.4 548.7,742.7 550.1,742.7 C551.7,742.7 553.4,743.4 555.0,744.9 C555.8,745.6 556.5,747.3 557.3,748.7 C558.1,750.1 558.9,752.1 559.7,753.4 C560.5,754.7 561.2,755.7 562.0,756.6 C563.4,758.2 564.7,758.4 566.1,759.8 C567.1,760.8 568.0,762.1 569.0,763.4 C570.0,764.8 571.0,766.7 572.0,768.0 C572.7,768.9 573.3,770.4 574.0,770.4 C574.9,770.4 575.7,769.8 576.6,768.6 C577.4,767.5 578.2,765.1 579.0,762.8 C579.8,760.6 580.5,757.7 581.3,755.2 C581.8,753.5 582.3,751.1 582.8,750.2 C583.5,749.0 584.1,748.4 584.8,748.4 C585.8,748.4 586.7,749.3 587.7,749.3 C588.5,749.3 589.3,749.3 590.1,749.3 C591.1,749.3 592.0,748.3 593.0,747.3 C593.7,746.6 594.3,745.6 595.0,744.9 C596.7,743.2 598.3,741.9 600.0,741.9 C601.4,741.9 602.7,744.1 604.1,745.5 C605.3,746.7 606.6,749.6 607.8,749.6 C609.4,749.6 610.9,747.2 612.5,746.3 C613.9,745.6 615.2,745.1 616.6,744.6" fill="none" stroke="#000000" stroke-width="3.00" stroke-linejoin="round" stroke-linecap="round"/>
<path d="M566.3,63.6 L571.5,69.1 L568.9,69.1 L568.9,79.6 L563.6,79.6 L563.6,69.1 L561.1,69.1 Z" fill="#ff0000"/>
<path d="M195.3,343.0 L200.5,348.5 L198.0,348.5 L198.0,355.7 L192.7,355.7 L192.7,348.5 L190.1,348.5 Z" fill="#ff0000"/>
<path d="M574.3,336.7 L579.5,342.2 L576.9,342.2 L576.9,350.0 L571.6,350.0 L571.6,342.2 L569.1,342.2 Z" fill="#ff0000"/>
<path d="M194.4,409.2 L199.6,414.7 L197.1,414.7 L197.1,422.9 L191.8,422.9 L191.8,414.7 L189.2,414.7 Z" fill="#ff0000"/>
<path d="M190.7,482.7 L195.9,488.2 L193.3,488.2 L193.3,496.0 L188.0,496.0 L188.0,488.2 L185.5,488.2 Z" fill="#ff0000"/>
<path d="M194.4,773.9 L199.6,779.4 L197.1,779.4 L197.1,785.0 L191.8,785.0 L191.8,779.4 L189.2,779.4 Z" fill="#ff0000"/>
<path d="M573.3,772.8 L578.5,778.3 L575.9,778.3 L575.9,784.5 L570.6,784.5 L570.6,778.3 L568.1,778.3 Z" fill="#ff0000"/>
<path d="M436.8,461.0 L442.2,455.2 L439.5,455.2 L439.5,446.5 L434.1,446.5 L434.1,455.2 L431.4,455.2 Z" fill="#0000ff"/>
<path d="M436.0,525.6 L441.4,519.8 L438.7,519.8 L438.7,511.2 L433.3,511.2 L433.3,519.8 L430.6,519.8 Z" fill="#0000ff"/>
<path d="M552.6,532.0 L558.0,526.2 L555.3,526.2 L555.3,517.5 L549.9,517.5 L549.9,526.2 L547.2,526.2 Z" fill="#0000ff"/>
<path d="M192.3,607.2 L197.7,601.4 L195.0,601.4 L195.0,593.0 L189.6,593.0 L189.6,601.4 L186.9,601.4 Z" fill="#00b050"/>
<path d="M192.6,679.2 L198.0,673.4 L195.3,673.4 L195.3,665.0 L189.9,665.0 L189.9,673.4 L187.2,673.4 Z" fill="#00b050"/>
<path d="M436.1,593.2 L441.5,587.4 L438.8,587.4 L438.8,578.8 L433.4,578.8 L433.4,587.4 L430.7,587.4 Z" fill="#0000ff"/>
<path d="M548.6,598.0 L554.0,592.2 L551.3,592.2 L551.3,583.3 L545.9,583.3 L545.9,592.2 L543.2,592.2 Z" fill="#0000ff"/>
<path d="M435.4,663.2 L440.8,657.4 L438.1,657.4 L438.1,648.8 L432.7,648.8 L432.7,657.4 L430.0,657.4 Z" fill="#0000ff"/>
<path d="M549.8,668.2 L555.2,662.4 L552.5,662.4 L552.5,653.8 L547.1,653.8 L547.1,662.4 L544.4,662.4 Z" fill="#0000ff"/>
<path d="M435.5,727.9 L440.9,722.1 L438.2,722.1 L438.2,713.6 L432.8,713.6 L432.8,722.1 L430.1,722.1 Z" fill="#0000ff"/>
<path d="M551.0,736.8 L556.4,731.0 L553.7,731.0 L553.7,721.9 L548.3,721.9 L548.3,731.0 L545.6,731.0 Z" fill="#0000ff"/>
<text x="426.3" y="620.9" class="lt">A1</text>
<text x="542.3" y="621.7" class="lt">B1</text>
<text x="425.4" y="692.5" class="lt">A2</text>
<text x="543.2" y="693.6" class="lt">B2</text>
<text x="188.8" y="755.0" class="lt3">D</text>
<text x="429.2" y="770.7" class="lt2">A</text>
<text x="544.8" y="771.0" class="lt2">B</text>
<text x="565.8" y="754.1" class="lt3">C</text>
</svg>
</body></html>
